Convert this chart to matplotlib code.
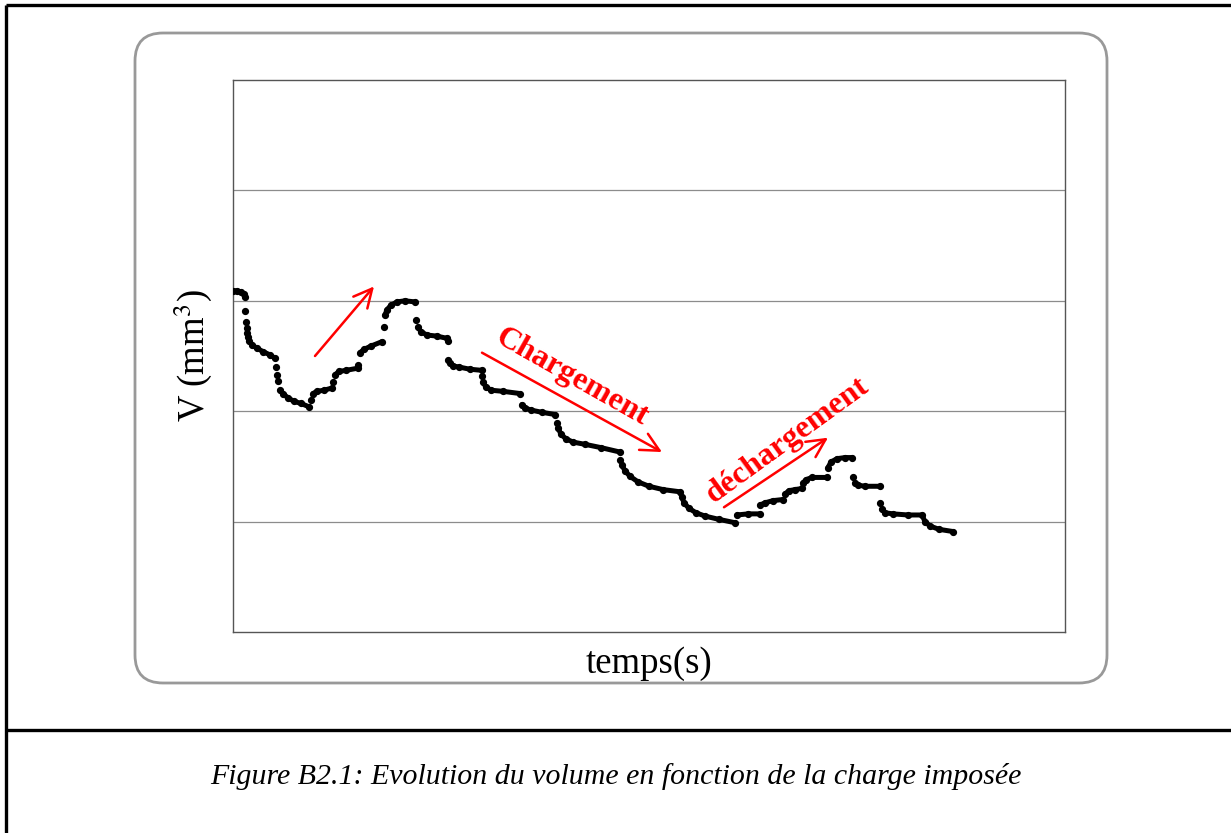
import numpy as np
import matplotlib
matplotlib.use("Agg")
import matplotlib.pyplot as plt
from matplotlib.patches import FancyBboxPatch

plt.rcParams['font.family'] = ['Liberation Serif', 'DejaVu Serif']
plt.rcParams['mathtext.fontset'] = 'stix'

# Volume measurements, one list per step of the loading history.
# Single-point steps are the isolated dots recorded during each jump.
nan = np.nan
temps = [
    0, 4, 8, 11, 12, nan,
    12, nan, 13, nan, 14, nan, 14, nan,
    15, 16, 19, 24, 30, 37, 42, nan,
    43, nan, 44, nan, 45, nan,
    47, 50, 55, 61, 68, 76, nan,
    78, nan,
    80, 84, 91, 99, nan,
    100, nan,
    102, 106, 113, 125, nan,
    125, nan,
    127, 131, 138, 149, nan,
    151, nan,
    152, 154, 158, 164, 172, 182, nan,
    183, nan,
    185, 188, 194, 204, 214, 215, nan,
    215, nan,
    217, 220, 226, 237, 249, nan,
    249, nan,
    250, 253, 258, 270, 287, nan,
    289, 292, 298, 309, 322, nan,
    324, nan,
    325, 328, 333, 340, 352, 368, 387, nan,
    387, nan,
    389, 392, 397, 405, 416, 430, 447,
    449, 451, 456, 463, 472, 486, 502, nan,
    504, 515, 527, nan,
    527, 532, 540, 550, nan,
    552, 556, 562, 569, nan,
    570, 573, 579, 594, nan,
    595, 598, 604, 612, 619, nan,
    620, nan,
    622, 625, 632, 647, nan,
    647, nan,
    649, 652, 660, 675, 689, 692, 697, 706, 720,
]
volume = [
    3.09, 3.09, 3.08, 3.06, 3.03, nan,
    2.91, nan, 2.81, nan, 2.75, nan, 2.71, nan,
    2.67, 2.64, 2.60, 2.57, 2.54, 2.51, 2.48, nan,
    2.40, nan, 2.33, nan, 2.27, nan,
    2.19, 2.16, 2.12, 2.09, 2.07, 2.04, nan,
    2.10, nan,
    2.16, 2.18, 2.19, 2.21, nan,
    2.26, nan,
    2.33, 2.36, 2.37, 2.39, nan,
    2.42, nan,
    2.53, 2.56, 2.59, 2.63, nan,
    2.76, nan,
    2.87, 2.92, 2.96, 2.99, 3.00, 2.99, nan,
    2.83, nan,
    2.76, 2.72, 2.69, 2.68, 2.66, 2.64, nan,
    2.46, nan,
    2.44, 2.41, 2.40, 2.38, 2.37, nan,
    2.32, nan,
    2.26, 2.22, 2.19, 2.18, 2.16, nan,
    2.06, 2.03, 2.01, 1.99, 1.97, nan,
    1.89, nan,
    1.85, 1.79, 1.75, 1.72, 1.70, 1.67, 1.63, nan,
    1.56, nan,
    1.51, 1.46, 1.41, 1.36, 1.32, 1.29, 1.27,
    1.22, 1.17, 1.12, 1.08, 1.05, 1.02, 0.99, nan,
    1.06, 1.07, 1.07, nan,
    1.15, 1.17, 1.19, 1.20, nan,
    1.25, 1.28, 1.29, 1.30, nan,
    1.35, 1.38, 1.40, 1.40, nan,
    1.49, 1.54, 1.57, 1.58, 1.58, nan,
    1.40, nan,
    1.35, 1.33, 1.32, 1.32, nan,
    1.17, nan,
    1.11, 1.08, 1.07, 1.06, 1.06, 1.00, 0.96, 0.93, 0.91,
]

W, H = 1231, 833
fig = plt.figure(figsize=(W / 100, H / 100), dpi=100)

# page frame, drawn in pixel coordinates
bg = fig.add_axes([0, 0, 1, 1])
bg.set_xlim(0, W)
bg.set_ylim(H, 0)
bg.axis('off')
bg.plot([6, W], [5, 5], color='black', lw=2.4, solid_capstyle='butt')
bg.plot([6, 6], [5, H], color='black', lw=2.4, solid_capstyle='butt')
bg.plot([6, W], [730, 730], color='black', lw=2.4, solid_capstyle='butt')
box = FancyBboxPatch((135, 33), 972, 650, boxstyle='round,pad=0,rounding_size=28',
                     facecolor='white', edgecolor='#999999', lw=2)
bg.add_patch(box)
bg.text(616, 776, 'Figure B2.1: Evolution du volume en fonction de la charge imposée',
        ha='center', va='center', fontsize=21.5, style='italic')

ax = fig.add_axes([233 / W, (H - 632) / H, 832 / W, 552 / H])
ax.set_xlim(0, 832)
ax.set_ylim(0, 5)
ax.set_xticks([])
ax.set_yticks([1, 2, 3, 4])
ax.tick_params(axis='y', length=0, labelleft=False)
ax.grid(axis='y', color='#8c8c8c', lw=0.9)
for s in ax.spines.values():
    s.set_color('#555555')
    s.set_linewidth(1.0)

ax.plot(temps, volume, color='black', lw=3.6, marker='o', ms=4.2,
        solid_capstyle='round', solid_joinstyle='round', zorder=3)

ax.set_xlabel('temps(s)', fontsize=26.5, labelpad=10)
ax.set_ylabel('V (mm$^3$)', fontsize=26.5, labelpad=14)

red = '#ff0000'
arrow = dict(arrowstyle='->,head_length=0.6,head_width=0.3', color=red, lw=1.8,
             mutation_scale=22, shrinkA=0, shrinkB=0)
ax.annotate('', xy=(141, 3.13), xytext=(82, 2.50), arrowprops=arrow)
ax.annotate('', xy=(429, 1.63), xytext=(249, 2.53), arrowprops=arrow)
ax.annotate('', xy=(595, 1.76), xytext=(491, 1.13), arrowprops=arrow)

ax.text(339, 2.31, 'Chargement', color=red, fontsize=23, fontweight='bold',
        rotation=-29.5, ha='center', va='center', rotation_mode='anchor')
ax.text(555, 1.74, 'déchargement', color=red, fontsize=23, fontweight='bold',
        rotation=36, ha='center', va='center', rotation_mode='anchor')

fig.savefig('out.png', dpi=100)
